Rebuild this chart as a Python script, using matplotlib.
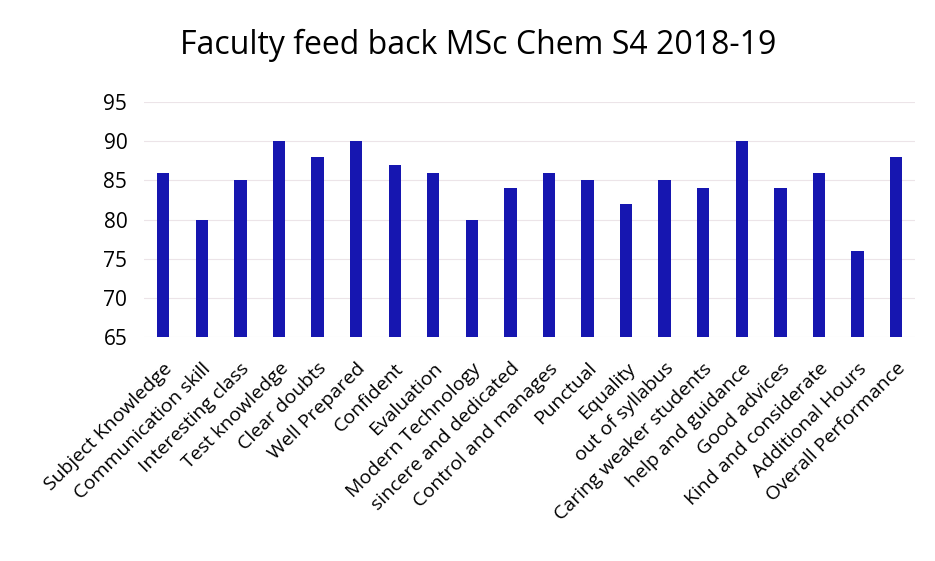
import numpy as np
import matplotlib.pyplot as plt

plt.rcParams['font.family'] = ['Open Sans', 'DejaVu Sans']

# feedback categories and average scores
categories = ["Subject Knowledge", "Communication skill", "Interesting class",
              "Test knowledge", "Clear doubts", "Well Prepared", "Confident",
              "Evaluation", "Modern Technology", "sincere and dedicated",
              "Control and manages", "Punctual", "Equality", "out of syllabus",
              "Caring weaker students", "help and guidance", "Good advices",
              "Kind and considerate", "Additional Hours", "Overall Performance"]
scores = [86, 80, 85, 90, 88, 90, 87, 86, 80, 84,
          86, 85, 82, 85, 84, 90, 84, 86, 76, 88]
yticks = [65, 70, 75, 80, 85, 90, 95]

fig = plt.figure(figsize=(9.35, 5.61), dpi=100)
ax = fig.add_axes([0.154, 0.399, 0.825, 0.419])

x = np.arange(len(categories))
ax.bar(x, scores, width=0.32, color='#1616b0', zorder=3)

ax.set_xlim(-0.5, len(categories) - 0.5)
ax.set_ylim(65, 95)
ax.set_yticks(yticks)
ax.tick_params(axis='y', labelsize=15, length=0, pad=12)
ax.tick_params(axis='x', length=0, pad=16)
ax.set_xticks(x)
ax.set_xticklabels(categories, rotation=45, ha='right', rotation_mode='anchor',
                   fontsize=14)
ax.yaxis.grid(True, color='#ece4e8', linewidth=0.8, zorder=0)
for s in ax.spines.values():
    s.set_visible(False)

fig.text(0.511, 1 - 45 / 561, "Faculty feed back MSc Chem S4 2018-19",
         fontsize=23, ha='center', va='center')

fig.savefig("out.png", dpi=100)
